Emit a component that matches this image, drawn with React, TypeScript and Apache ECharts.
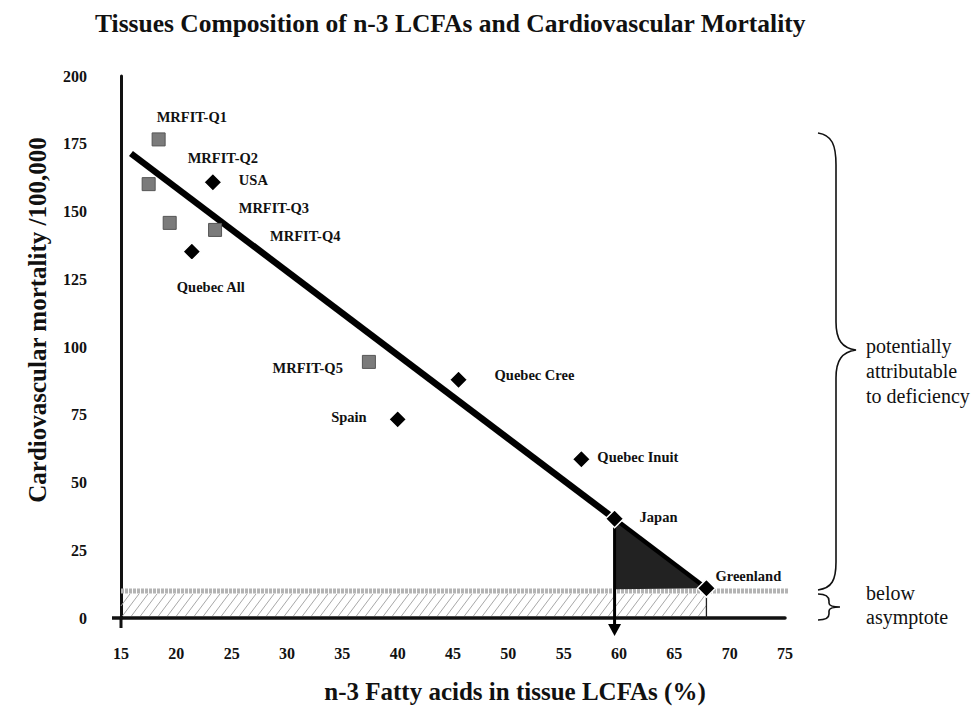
import { useEffect, useRef } from "react";
import * as echarts from "echarts";

// ---------- data ----------
const X_MIN = 15;
const X_MAX = 75;
const X_STEP = 5;
const Y_MIN = 0;
const Y_MAX = 200;
const Y_STEP = 25;

const mrfitNames = ["MRFIT-Q1", "MRFIT-Q2", "MRFIT-Q3", "MRFIT-Q4", "MRFIT-Q5"];
const mrfitFattyAcids = [18.4, 17.5, 19.4, 23.5, 37.4];
const mrfitMortality = [176.6, 160.1, 145.8, 143.2, 94.5];

const populationNames = ["USA", "Quebec All", "Spain", "Quebec Cree", "Quebec Inuit", "Japan", "Greenland"];
const populationFattyAcids = [23.3, 21.4, 40.0, 45.5, 56.6, 59.6, 67.9];
const populationMortality = [160.8, 135.2, 73.3, 87.9, 58.6, 36.6, 11.0];

const fitLineX = [15.9, 59.6];
const fitLineY = [171.4, 36.6];

const asymptoteValue = 10;

const titleText = "Tissues Composition of n-3 LCFAs and Cardiovascular Mortality";
const xAxisTitle = "n-3 Fatty acids in tissue LCFAs (%)";
const yAxisTitle = "Cardiovascular mortality /100,000";
const deficiencyNote = "potentially\nattributable\nto deficiency";
const asymptoteNote = "below\nasymptote";

// ---------- presentation ----------
const FONT = "'Liberation Serif', 'Times New Roman', serif";
const INK = "#111";

const labelPlacement: Record<string, { align: "left" | "right"; offset: [number, number] }> = {
  "MRFIT-Q1": { align: "left", offset: [-2, -22] },
  "MRFIT-Q2": { align: "left", offset: [39, -26] },
  "MRFIT-Q3": { align: "left", offset: [69, -15] },
  "MRFIT-Q4": { align: "left", offset: [55, 6] },
  "MRFIT-Q5": { align: "right", offset: [-26, 6] },
  USA: { align: "left", offset: [26, -2] },
  "Quebec All": { align: "left", offset: [-15, 35] },
  Spain: { align: "right", offset: [-31, -2] },
  "Quebec Cree": { align: "left", offset: [36, -5] },
  "Quebec Inuit": { align: "left", offset: [16, -2] },
  Japan: { align: "left", offset: [25, -2] },
  Greenland: { align: "left", offset: [9, -12] },
};

function pointItems(names: string[], xs: number[], ys: number[]) {
  return names.map((name, i) => ({
    name,
    value: [xs[i], ys[i]],
    label: {
      show: true,
      position: "inside",
      align: labelPlacement[name].align,
      verticalAlign: "middle",
      offset: labelPlacement[name].offset,
      formatter: name,
      fontFamily: FONT,
      fontWeight: "bold",
      fontSize: 14.5,
      color: INK,
    },
  }));
}

const bigBrace =
  "M 818 133 C 832 135 836 145 836 165 L 836 322 C 836 340 842 348 856 350 C 842 352 836 360 836 378 L 836 562 C 836 580 832 588 818 590";
const smallBrace =
  "M 818 594 C 826 594 829 597 829 601 L 829 603 C 829 606 832 607 840 607 C 832 607 829 608 829 611 L 829 614 C 829 618 826 620 818 620";

export default function App() {
  const ref = useRef<HTMLDivElement>(null);

  useEffect(() => {
    const el = ref.current;
    if (!el) return;
    echarts.graphic.registerShape("bigBrace", echarts.graphic.extendPath(bigBrace, {}) as any);
    echarts.graphic.registerShape("smallBrace", echarts.graphic.extendPath(smallBrace, {}) as any);

    const chart = echarts.init(el, null, { renderer: "svg" });

    const gIdx = populationNames.indexOf("Greenland");
    const jIdx = populationNames.indexOf("Japan");

    const option: any = {
      animation: false,
      backgroundColor: "#fff",
      title: {
        text: titleText,
        left: 95,
        top: 8,
        padding: 0,
        textStyle: { fontFamily: FONT, fontWeight: "bold", fontSize: 25.5, lineHeight: 30, color: INK },
      },
      grid: { left: 121, right: 192, top: 76, bottom: 89 },
      xAxis: {
        type: "value",
        min: X_MIN,
        max: X_MAX,
        interval: X_STEP,
        name: xAxisTitle,
        nameLocation: "middle",
        nameGap: 58,
        nameTextStyle: {
          fontFamily: FONT,
          fontWeight: "bold",
          fontSize: 25,
          lineHeight: 30,
          color: INK,
          padding: [0, 0, 0, 124],
        },
        axisLine: { show: true, onZero: false, lineStyle: { color: INK, width: 3.5 } },
        axisTick: { show: false },
        splitLine: { show: false },
        axisLabel: { margin: 27, fontFamily: FONT, fontWeight: "bold", fontSize: 16, color: INK },
      },
      yAxis: {
        type: "value",
        min: Y_MIN,
        max: Y_MAX,
        interval: Y_STEP,
        name: yAxisTitle,
        nameLocation: "middle",
        nameRotate: 90,
        nameGap: 64,
        nameTextStyle: {
          fontFamily: FONT,
          fontWeight: "bold",
          fontSize: 25,
          lineHeight: 30,
          color: INK,
          padding: [0, 0, 0, 54],
        },
        axisLine: { show: true, lineStyle: { color: INK, width: 3 } },
        axisTick: { show: false },
        splitLine: { show: false },
        axisLabel: { margin: 34, fontFamily: FONT, fontWeight: "bold", fontSize: 16, color: INK },
      },
      graphic: [
        { type: "bigBrace", x: 0, y: 0, style: { fill: "none", stroke: "#111", lineWidth: 1.6 } },
        { type: "smallBrace", x: 0, y: 0, style: { fill: "none", stroke: "#111", lineWidth: 1.6 } },
        {
          type: "text",
          left: 866,
          top: 333,
          style: { text: deficiencyNote, font: `20px ${FONT}`, lineHeight: 25, fill: INK },
        },
        {
          type: "text",
          left: 866,
          top: 581,
          style: { text: asymptoteNote, font: `20px ${FONT}`, lineHeight: 24, fill: INK },
        },
      ],
      series: [
        {
          // hatched band below the asymptote
          type: "custom",
          z: 1,
          silent: true,
          clip: false,
          data: [[X_MIN, 0]],
          renderItem: (_p: any, api: any) => {
            const tl = api.coord([X_MIN, asymptoteValue]);
            const br = api.coord([populationFattyAcids[gIdx], 0]);
            const left = tl[0];
            const top = tl[1] + 3;
            const right = br[0];
            const bottom = br[1] - 2;
            const h = bottom - top;
            const run = h * 0.75;
            const children: any[] = [];
            for (let x0 = left - run; x0 < right; x0 += 9) {
              let t0 = 0;
              let t1 = 1;
              if (x0 < left) t0 = (left - x0) / run;
              if (x0 + run > right) t1 = (right - x0) / run;
              if (t0 >= t1) continue;
              children.push({
                type: "line",
                shape: {
                  x1: x0 + t0 * run,
                  y1: bottom - t0 * h,
                  x2: x0 + t1 * run,
                  y2: bottom - t1 * h,
                },
                style: { stroke: "#a8a8a8", lineWidth: 1 },
              });
            }
            const gTop = api.coord([populationFattyAcids[gIdx], asymptoteValue]);
            children.push({
              type: "line",
              shape: { x1: gTop[0], y1: gTop[1], x2: br[0], y2: br[1] },
              style: { stroke: "#222", lineWidth: 1.3 },
            });
            // axis line extensions through the origin
            const o = api.coord([X_MIN, 0]);
            children.push({
              type: "line",
              shape: { x1: o[0], y1: o[1], x2: o[0], y2: o[1] + 10 },
              style: { stroke: INK, lineWidth: 3 },
            });
            children.push({
              type: "line",
              shape: { x1: o[0] - 9, y1: o[1], x2: o[0], y2: o[1] },
              style: { stroke: INK, lineWidth: 3.5 },
            });
            return { type: "group", children };
          },
        },
        {
          // asymptote line
          type: "custom",
          z: 2,
          silent: true,
          clip: false,
          data: [[X_MIN, asymptoteValue]],
          renderItem: (_p: any, api: any) => {
            const a = api.coord([X_MIN, asymptoteValue]);
            const b = api.coord([X_MAX, asymptoteValue]);
            return {
              type: "line",
              shape: { x1: a[0], y1: a[1], x2: b[0] + 3, y2: b[1] },
              style: { stroke: "#b4b4b4", lineWidth: 5, lineDash: [3, 1] },
            };
          },
        },
        {
          // shaded triangle between Japan and Greenland, with arrow down to the axis
          type: "custom",
          z: 3,
          silent: true,
          clip: false,
          data: [[populationFattyAcids[jIdx], populationMortality[jIdx]]],
          renderItem: (_p: any, api: any) => {
            const jp = api.coord([populationFattyAcids[jIdx], populationMortality[jIdx]]);
            const jb = api.coord([populationFattyAcids[jIdx], asymptoteValue]);
            const gr = api.coord([populationFattyAcids[gIdx], populationMortality[gIdx]]);
            const axisPt = api.coord([populationFattyAcids[jIdx], 0]);
            return {
              type: "group",
              children: [
                {
                  type: "polygon",
                  shape: { points: [jp, [jb[0], gr[1] + 1], gr] },
                  style: { fill: "#222", stroke: "none" },
                },
                {
                  type: "line",
                  shape: { x1: jp[0], y1: jp[1], x2: gr[0], y2: gr[1] },
                  style: { stroke: "#000", lineWidth: 4.5 },
                },
                {
                  type: "line",
                  shape: { x1: jp[0], y1: jp[1], x2: jp[0], y2: axisPt[1] + 8 },
                  style: { stroke: "#000", lineWidth: 3 },
                },
                {
                  type: "polygon",
                  shape: {
                    points: [
                      [axisPt[0] - 6.5, axisPt[1] + 6],
                      [axisPt[0] + 6.5, axisPt[1] + 6],
                      [axisPt[0], axisPt[1] + 18],
                    ],
                  },
                  style: { fill: "#000" },
                },
              ],
            };
          },
        },
        {
          name: "Fit",
          type: "line",
          z: 4,
          silent: true,
          symbol: "none",
          data: fitLineX.map((x, i) => [x, fitLineY[i]]),
          lineStyle: { color: "#000", width: 6.5, cap: "butt" },
        },
        {
          name: "MRFIT",
          type: "scatter",
          z: 5,
          symbol: "rect",
          symbolSize: 13,
          itemStyle: { color: "#7b7b7b", borderColor: "#555", borderWidth: 1, opacity: 1 },
          data: pointItems(mrfitNames, mrfitFattyAcids, mrfitMortality),
        },
        {
          name: "Populations",
          type: "scatter",
          z: 6,
          symbol: "diamond",
          symbolSize: 18,
          itemStyle: { color: "#000", borderColor: "#fff", borderWidth: 1.5, opacity: 1 },
          data: pointItems(populationNames, populationFattyAcids, populationMortality),
        },
      ],
    };

    chart.setOption(option);
    return () => chart.dispose();
  }, []);

  return (
    <div
      ref={ref}
      style={{ position: "fixed", left: 0, top: 0, width: 977, height: 711, background: "#fff" }}
    />
  );
}
